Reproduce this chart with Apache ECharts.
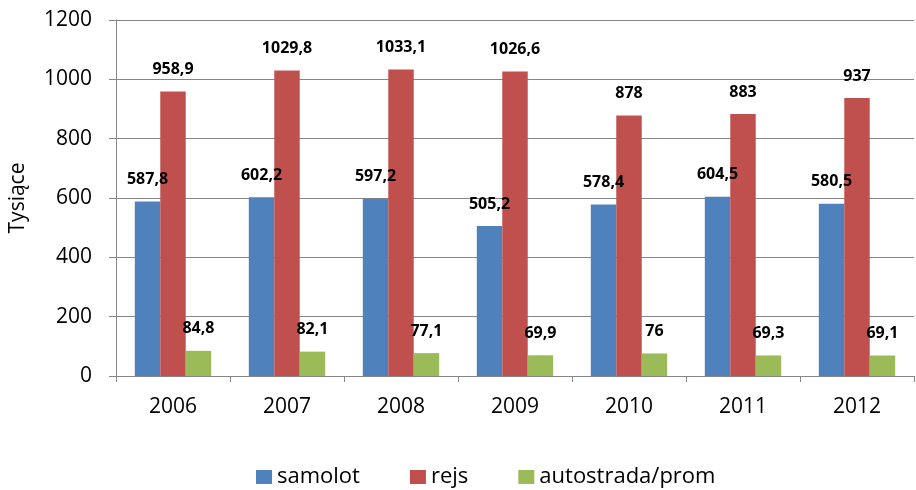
<!DOCTYPE html>
<html>
<head>
<meta charset="utf-8">
<script src="https://cdn.jsdelivr.net/npm/echarts@6/dist/echarts.min.js"></script>
<style>
  html, body { margin: 0; padding: 0; background: #fff; }
  #chart { width: 916px; height: 490px; }
</style>
</head>
<body>
<div id="chart"></div>
<script>
const years = ['2006', '2007', '2008', '2009', '2010', '2011', '2012']
const samolot = [587.8, 602.2, 597.2, 505.2, 578.4, 604.5, 580.5]
const rejs = [958.9, 1029.8, 1033.1, 1026.6, 878, 883, 937]
const autostrada = [84.8, 82.1, 77.1, 69.9, 76, 69.3, 69.1]

const font = '"Open Sans", sans-serif'

// liczby z przecinkiem jak w oryginale
const fmt = p => String(p.value).replace('.', ',')

function bar(name, data, color) {
    return {
        name: name,
        type: 'bar',
        data: data,
        barGap: '0%',
        barCategoryGap: '33%',
        itemStyle: { color: color },
        label: {
            show: true,
            position: 'top',
            distance: 14,
            formatter: fmt,
            color: '#000',
            fontWeight: 'bold',
            fontSize: 16,
            fontFamily: font
        }
    }
}

const chart = echarts.init(document.getElementById('chart'))
chart.setOption({
    animation: false,
    grid: { left: 116, top: 20, right: 2, bottom: 114 },
    legend: {
        bottom: 0,
        left: 256,
        padding: 0,
        itemWidth: 16,
        itemHeight: 14,
        itemGap: 50,
        icon: 'rect',
        textStyle: { fontSize: 22, lineHeight: 26, color: '#000', fontFamily: font }
    },
    xAxis: {
        type: 'category',
        data: years,
        axisLine: { lineStyle: { color: '#868686' } },
        axisTick: { show: true, length: 6, lineStyle: { color: '#868686' } },
        axisLabel: { fontSize: 21, color: '#000', margin: 21, fontFamily: font }
    },
    yAxis: {
        type: 'value',
        min: 0,
        max: 1200,
        interval: 200,
        name: 'Tysiące',
        nameLocation: 'middle',
        nameGap: 87,
        nameTextStyle: { fontSize: 21, color: '#000', fontFamily: font },
        axisLine: { show: true, lineStyle: { color: '#868686' } },
        axisTick: { show: true, length: 7, lineStyle: { color: '#868686' } },
        axisLabel: { fontSize: 21, color: '#000', margin: 24, fontFamily: font, formatter: v => String(v) },
        splitLine: { lineStyle: { color: '#868686' } }
    },
    series: [
        bar('samolot', samolot, '#4F81BD'),
        bar('rejs', rejs, '#C0504D'),
        bar('autostrada/prom', autostrada, '#9BBB59')
    ]
})
</script>
</body>
</html>
